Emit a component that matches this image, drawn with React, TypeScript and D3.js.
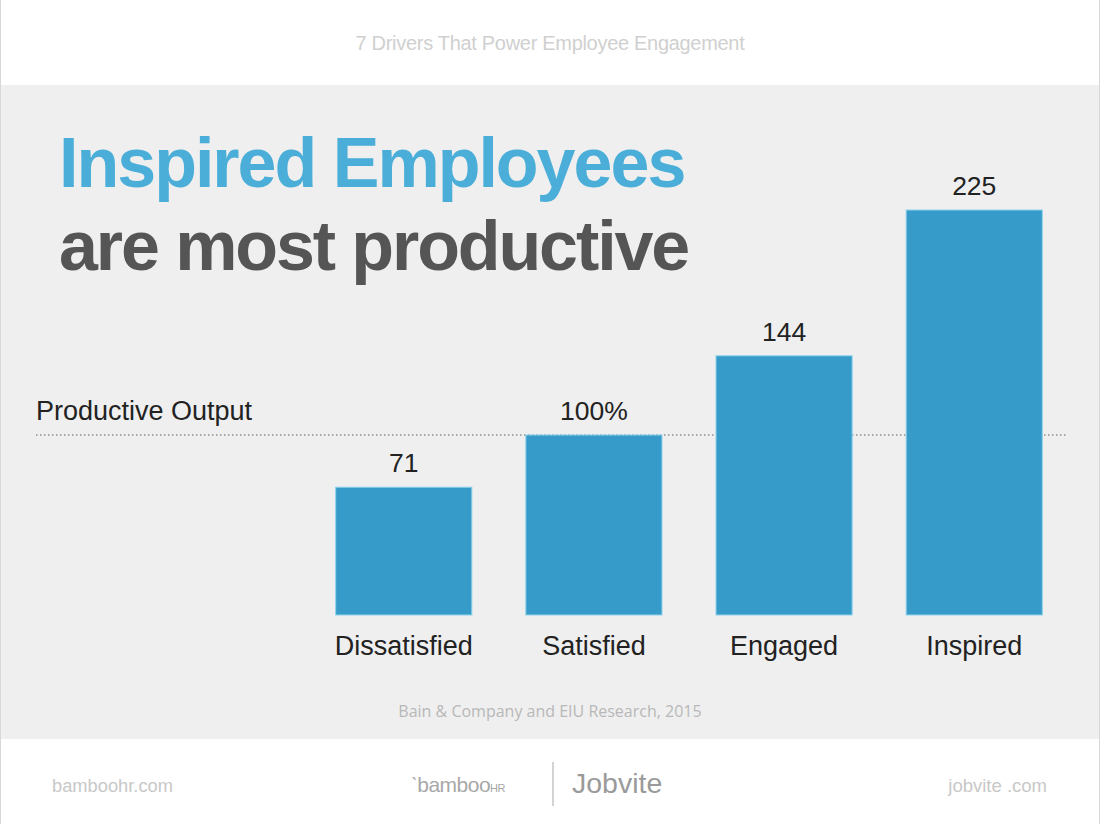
import React from "react";
import * as d3 from "d3";

const categories = ["Dissatisfied", "Satisfied", "Engaged", "Inspired"];
const values = [71, 100, 144, 225];
const valueLabels = ["71", "100%", "144", "225"];
const referenceValue = 100;
const referenceLabel = "Productive Output";

const W = 1100;
const H = 824;
const FONT = "'Liberation Sans', Arial, Helvetica, sans-serif";

export default function App() {
  const x = d3.scaleBand<string>().domain(categories).range([310, 1068]).paddingInner(0.284).paddingOuter(0.135);
  const y = d3.scaleLinear().domain([0, 225]).range([615, 210]);
  const refY = y(referenceValue);

  return (
    <div style={{ position: "absolute", left: 0, top: 0 }}>
      <svg width={W} height={H} style={{ display: "block" }}>
        <rect x={0} y={0} width={W} height={H} fill="#ffffff" />
        <rect x={0} y={85} width={W} height={654} fill="#efefef" />
        <line x1={0.5} y1={0} x2={0.5} y2={H} stroke="#d8d8d8" />
        <line x1={W - 0.5} y1={0} x2={W - 0.5} y2={H} stroke="#d8d8d8" />

        <text x={550} y={50} textAnchor="middle" fontFamily={FONT} fontSize={20} fill="#d0d0d0" letterSpacing={-0.3}>
          7 Drivers That Power Employee Engagement
        </text>

        <text x={59} y={187} fontFamily={FONT} fontWeight="bold" fontSize={70} letterSpacing={-2} fill="#4aaed8">
          Inspired Employees
        </text>
        <text x={59} y={270} fontFamily={FONT} fontWeight="bold" fontSize={70} letterSpacing={-2.1} fill="#555555">
          are most productive
        </text>

        <text x={36} y={420} fontFamily={FONT} fontSize={27} fill="#222">
          {referenceLabel}
        </text>
        <line x1={36} x2={1068} y1={refY} y2={refY} stroke="#a8a8a8" strokeWidth={2} strokeDasharray="1.5 2.5" />

        {categories.map((c, i) => {
          const bx = x(c)!;
          const by = y(values[i]);
          return (
            <g key={c}>
              <rect x={bx} y={by} width={x.bandwidth()} height={y(0) - by} fill="#369bc8" stroke="#8fd3ec" strokeWidth={1} />
              <text x={bx + x.bandwidth() / 2} y={by - 15} textAnchor="middle" fontFamily={FONT} fontSize={26.5} fill="#222">
                {valueLabels[i]}
              </text>
              <text x={bx + x.bandwidth() / 2} y={655} textAnchor="middle" fontFamily={FONT} fontSize={27} fill="#222">
                {c}
              </text>
            </g>
          );
        })}

        <text x={550} y={717} textAnchor="middle" fontFamily="'Open Sans', sans-serif" fontSize={16} fill="#b8b8b8">
          Bain &amp; Company and EIU Research, 2015
        </text>

        <text x={52} y={792} fontFamily={FONT} fontSize={18.3} fill="#c8c8c8">bamboohr.com</text>
        <text x={1047} y={792} textAnchor="end" fontFamily={FONT} fontSize={18.5} fill="#c8c8c8">jobvite .com</text>
        <text x={505} y={792} textAnchor="end" fontFamily={FONT} fontSize={21} fill="#a8a8a8" letterSpacing={-0.5}>
          ˋbamboo<tspan fontSize={11}>HR</tspan>
        </text>
        <line x1={553} x2={553} y1={762} y2={806} stroke="#c4c4c4" strokeWidth={1.5} />
        <text x={572} y={793} fontFamily={FONT} fontSize={28.5} fill="#9a9a9a">Jobvite</text>
      </svg>
    </div>
  );
}
